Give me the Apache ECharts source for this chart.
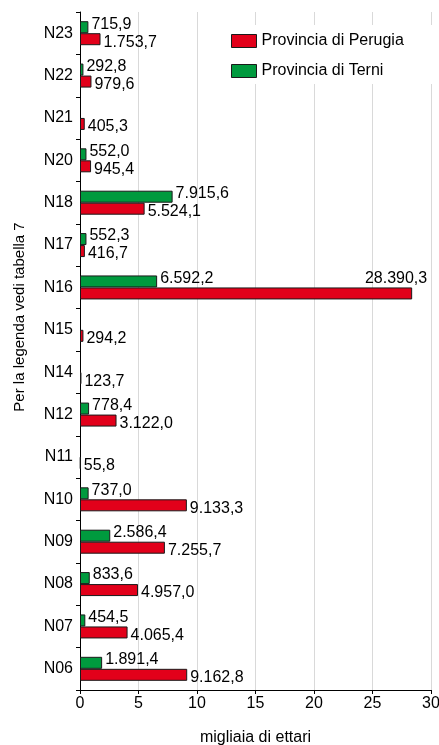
<!DOCTYPE html>
<html>
<head>
<meta charset="utf-8">
<script src="https://cdn.jsdelivr.net/npm/echarts@6/dist/echarts.min.js"></script>
<style>
html,body{margin:0;padding:0;background:#fff;}
#c{width:439px;height:745px;}
</style>
</head>
<body>
<div id="c"></div>
<script>
// categories bottom -> top
const categories = ['N06','N07','N08','N09','N10','N11','N12','N14','N15','N16','N17','N18','N20','N21','N22','N23'];
// hectares
const perugia = [9162.8, 4065.4, 4957.0, 7255.7, 9133.3, 55.8, 3122.0, 123.7, 294.2, 28390.3, 416.7, 5524.1, 945.4, 405.3, 979.6, 1753.7];
const terni   = [1891.4, 454.5, 833.6, 2586.4, 737.0, null, 778.4, null, null, 6592.2, 552.3, 7915.6, 552.0, null, 292.8, 715.9];
const xTicks = [0, 5, 10, 15, 20, 25, 30];

const FONT = '"Liberation Sans", Arial, sans-serif';
function fmt(h){
  let parts = h.toFixed(1).split('.');
  let i = parts[0].replace(/\B(?=(\d{3})+(?!\d))/g, '.');
  return i + ',' + parts[1];
}
function toData(arr, isRed){
  return arr.map(function(v){
    if (v === null) return null;
    const item = {value: v/1000, raw: v};
    if (isRed && v/1000 > 26) {
      item.label = {position: ['100%', -1], align: 'right', verticalAlign: 'bottom', offset: [15, 0]};
    }
    return item;
  });
}
const chart = echarts.init(document.getElementById('c'), null, {renderer: 'canvas'});
chart.setOption({
  animation: false,
  backgroundColor: '#fff',
  textStyle: {fontFamily: FONT},
  grid: {left: 80, right: 8, top: 12, bottom: 55, containLabel: false, outerBoundsMode: 'none'},
  legend: {
    orient: 'vertical',
    left: 221, top: 25,
    padding: [8, 30, 5, 10],
    backgroundColor: '#fff',
    icon: 'rect',
    itemWidth: 25, itemHeight: 13, itemGap: 14,
    textStyle: {fontSize: 16, color: '#000', fontFamily: FONT},
    data: [
      {name: 'Provincia di Perugia', itemStyle: {color: '#e2001a', borderColor: '#1a1a1a', borderWidth: 1}},
      {name: 'Provincia di Terni', itemStyle: {color: '#009a3e', borderColor: '#1a1a1a', borderWidth: 1}}
    ]
  },
  xAxis: {
    type: 'value', min: xTicks[0], max: xTicks[xTicks.length-1], interval: 5,
    name: 'migliaia di ettari', nameLocation: 'middle', nameGap: 40,
    nameTextStyle: {fontSize: 16, color: '#000', fontFamily: FONT},
    axisLine: {show: true, lineStyle: {color: '#000', width: 1}},
    axisTick: {show: true, length: 4, lineStyle: {color: '#000'}},
    axisLabel: {fontSize: 16, color: '#000', margin: 6, fontFamily: FONT},
    splitLine: {show: true, lineStyle: {color: '#d9d9d9', width: 1}}
  },
  yAxis: {
    type: 'category', data: categories,
    axisLine: {show: true, lineStyle: {color: '#000', width: 1}},
    axisTick: {show: true, length: 4, alignWithLabel: false, lineStyle: {color: '#000'}},
    axisLabel: {fontSize: 16, color: '#000', margin: 7, fontFamily: FONT, padding: [5, 0, 0, 0]},
    splitLine: {show: false}
  },
  graphic: [{
    type: 'text',
    x: 20, y: 317,
    rotation: Math.PI/2,
    style: {text: 'Per la legenda vedi tabella 7', font: '15px ' + FONT, fill: '#000', align: 'center', verticalAlign: 'middle'}
  }],
  series: [
    {
      name: 'Provincia di Terni', type: 'bar', barWidth: 12, barGap: '0%',
      data: toData(terni, false),
      itemStyle: {color: '#009a3e', borderColor: '#1a1a1a', borderWidth: 1},
      label: {show: true, position: 'right', distance: 3, offset: [0, -3], fontSize: 16, color: '#000', fontFamily: FONT,
        formatter: function(p){ return fmt(p.data.raw); }}
    },
    {
      name: 'Provincia di Perugia', type: 'bar', barWidth: 12, barGap: '0%',
      data: toData(perugia, true),
      itemStyle: {color: '#e2001a', borderColor: '#1a1a1a', borderWidth: 1},
      label: {show: true, position: 'right', distance: 3, offset: [0, 3], fontSize: 16, color: '#000', fontFamily: FONT,
        formatter: function(p){ return fmt(p.data.raw); }}
    }
  ]
});
</script>
</body>
</html>
